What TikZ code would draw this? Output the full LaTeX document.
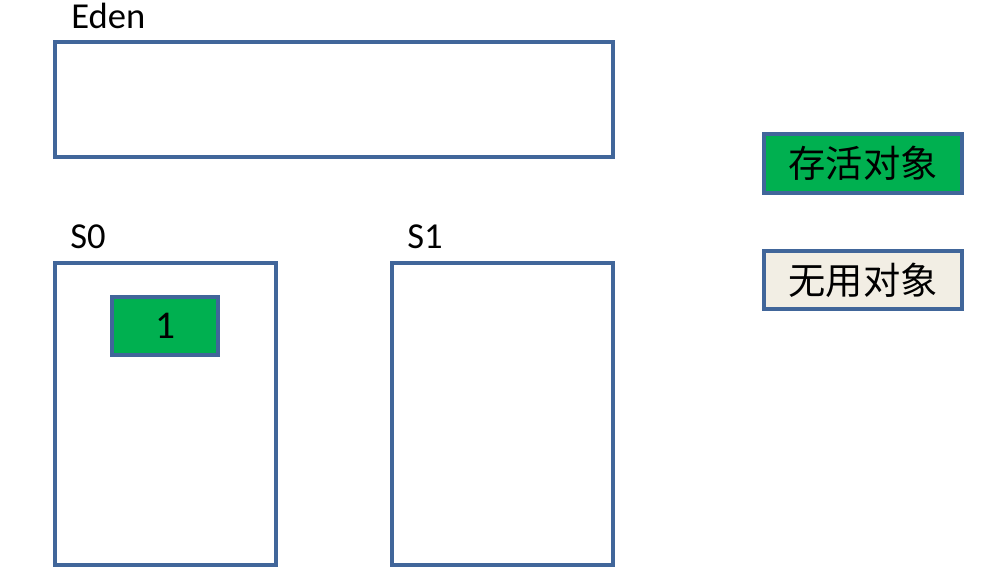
\documentclass[tikz,border=0pt]{standalone}
\usepackage{fontspec}
\setmainfont{Carlito}
\newfontfamily\cjk{Noto Sans CJK SC}
\definecolor{bordo}{HTML}{41669A}
\definecolor{vivo}{HTML}{00B050}
\definecolor{morto}{HTML}{F2EEE4}
\begin{document}
\begin{tikzpicture}[x=0.025cm,y=-0.025cm,font=\fontsize{26}{30}\selectfont,
	area/.style={draw=bordo, line width=3pt, fill=white, inner sep=0pt},
	oggetto/.style={draw=bordo, line width=3pt, inner sep=0pt},
	etichetta/.style={anchor=base west, inner sep=0pt}]
	\useasboundingbox (0,0) rectangle (1000,572);

	% Zone dell'heap
	\node[area, minimum width=13.95cm, minimum height=2.875cm] (eden) at (334,99.5) {};
	\node[area, minimum width=5.525cm, minimum height=7.55cm] (s0) at (165.5,414) {};
	\node[area, minimum width=5.525cm, minimum height=7.55cm] (s1) at (502.5,414) {};

	% Etichette
	\node[etichetta] (edenlbl) at (71,28) {Eden};
	\node[etichetta] (s0lbl) at (70,248) {S0};
	\node[etichetta] (s1lbl) at (407,248) {S1};

	% Oggetto in S0
	\node[oggetto, fill=vivo, minimum width=2.65cm, minimum height=1.45cm,
		font=\fontsize{28}{32}\selectfont] (obj1) at (165,326) {1};

	% Legenda
	\node[oggetto, fill=vivo, minimum width=4.95cm, minimum height=1.475cm,
		font=\cjk\fontsize{26.5}{30}\selectfont] (vivi) at (863,163.5) {存活对象};
	\node[oggetto, fill=morto, minimum width=4.95cm, minimum height=1.45cm,
		font=\cjk\fontsize{26.5}{30}\selectfont] (inutili) at (863,280) {无用对象};
\end{tikzpicture}
\end{document}
